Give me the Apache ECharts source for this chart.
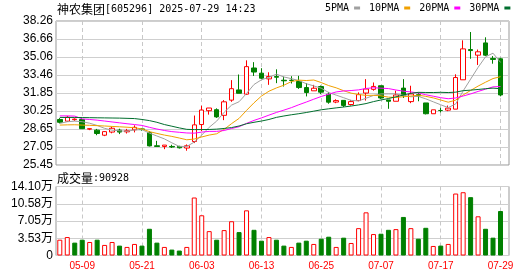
<!DOCTYPE html>
<html><head><meta charset="utf-8">
<script src="https://cdn.jsdelivr.net/npm/echarts@6/dist/echarts.min.js"></script>
<style>html,body{margin:0;padding:0;background:#fff}#c{width:530px;height:276px}</style>
</head><body><div id="c"></div>
<script>
const dates = ['05-06','05-07','05-08','05-09','05-12','05-13','05-14','05-15','05-16','05-19','05-20','05-21','05-22','05-23','05-26','05-27','05-28','05-29','05-30','06-03','06-04','06-05','06-06','06-09','06-10','06-11','06-12','06-13','06-16','06-17','06-18','06-19','06-20','06-23','06-24','06-25','06-26','06-27','06-30','07-01','07-02','07-03','07-04','07-07','07-08','07-09','07-10','07-11','07-14','07-15','07-16','07-17','07-18','07-21','07-22','07-23','07-24','07-25','07-28','07-29'];
const open  = [29.50,29.35,29.48,29.50,28.64,28.55,28.10,28.38,28.55,28.40,28.58,28.66,28.33,27.16,27.10,27.10,27.10,26.96,27.54,29.05,30.28,30.37,29.87,31.22,32.13,31.75,34.08,33.62,33.11,33.32,32.99,32.99,32.88,32.34,32.05,32.43,31.75,31.05,31.20,30.83,31.18,31.85,32.18,32.50,31.24,31.12,32.29,31.09,31.71,30.97,30.01,30.30,30.33,30.42,33.03,35.72,35.22,36.31,34.93,34.90];
const close = [29.25,29.70,29.53,28.68,28.68,28.25,28.42,28.72,28.38,28.50,28.80,28.60,27.15,27.10,27.22,27.05,26.98,27.16,29.02,30.34,30.52,29.73,31.07,32.24,31.83,34.20,33.72,33.17,33.32,33.26,32.94,32.97,32.34,31.90,32.28,31.93,31.04,31.18,30.75,31.09,31.71,32.21,32.44,31.41,31.12,31.68,31.62,31.77,31.59,30.01,30.36,30.30,30.51,33.23,35.78,35.63,35.52,35.22,34.84,31.68];
const low   = [29.15,29.28,29.38,28.66,28.55,28.10,28.02,28.27,28.20,28.25,28.35,28.50,27.10,27.10,26.86,26.96,26.92,26.72,27.40,28.46,29.93,29.64,29.44,31.07,31.83,31.69,33.37,33.11,32.58,32.73,32.43,32.70,32.22,31.55,32.05,31.75,30.90,30.95,30.60,30.74,31.12,31.18,32.06,31.33,30.45,31.12,31.41,30.95,31.12,29.95,30.01,30.13,30.24,30.42,33.03,34.90,34.35,35.14,34.46,31.56];
const high  = [29.62,29.82,29.60,29.62,28.70,28.66,28.45,28.84,28.68,28.66,28.98,28.72,28.46,27.60,27.22,27.25,27.16,27.28,29.85,30.72,30.52,30.49,31.22,33.00,33.50,34.76,34.60,34.06,33.70,33.96,33.32,33.35,33.38,32.73,32.58,32.52,31.95,31.30,31.22,31.24,31.91,33.09,32.79,32.50,31.24,32.06,33.09,32.50,31.91,30.97,30.36,30.54,30.74,33.52,36.54,37.28,35.72,36.81,35.14,34.99];
const volume = [32300,37700,26300,32300,27600,32300,21600,27600,20200,17500,23600,20200,54600,26300,17500,12100,10100,17500,118500,82200,49800,32300,51900,70000,47800,92300,52500,30300,37700,32300,20200,17500,26300,30300,23600,34300,38400,17500,36400,25600,55900,88200,43800,44500,52500,53900,78800,55900,34300,56600,19500,20200,23600,126600,129300,119200,80100,54600,36400,90928];
const volUp = [1,1,0,0,1,0,1,1,0,1, 1,0,0,0,1,0,0,1,1,1, 1,0,1,1,0,1,0,0,1,0, 0,1,0,0,1,0,0,1,0,1, 1,1,1,0,0,1,0,1,0,0, 1,0,1,1,1,0,1,0,0,0];
// moving-average values before a full window exists
const ma5Head  = [29.15,29.30,29.35,29.30];
const ma10Head = [29.00,29.02,29.03,29.00,28.98,28.95,28.92,28.88,28.85];
const ma20Head = [29.82,29.82,29.80,29.55,29.50,29.44,29.36,29.28,29.20,29.12,29.05,28.97,28.80,28.65,28.52,28.42,28.36,28.30,28.28];
const ma30Head = [29.68,29.68,29.68,29.67,29.66,29.65,29.64,29.63,29.62,29.60,29.58,29.50,29.40,29.25,29.05,28.90,28.75,28.62,28.60,28.60,28.61,28.64,28.70,28.78,28.92,29.12,29.25,29.36,29.50];
const priceLabels = ['25.45','27.05','28.65','30.25','31.85','33.46','35.06','36.66','38.26'];
const volLabels = ['0','3.53万','7.05万','10.58万','14.10万'];
const maNames = ['5PMA','10PMA','20PMA','30PMA'];
const maColors = ['#a0a0a0','#f0a000','#ff00ff','#006e2e'];

const pMin = 25.45, pMax = 38.26, pStep = 1.60125;
const vMax = 141000, vStep = 35250;

function ma(n, head) {
  return close.map((_, i) => {
    if (i < n - 1) return head[i];
    let s = 0;
    for (let k = i - n + 1; k <= i; k++) s += close[k];
    return +(s / n).toFixed(3);
  });
}
const maData = [ma(5, ma5Head), ma(10, ma10Head), ma(20, ma20Head), ma(30, ma30Head)];
const kData = dates.map((_, i) => [open[i], close[i], low[i], high[i]]);
const volData = volume.map((v, i) => volUp[i]
  ? { value: v, itemStyle: { color: '#ffffff', borderColor: '#ff0000', borderWidth: 1 } }
  : { value: v, itemStyle: { color: '#008000', borderColor: '#008000', borderWidth: 1 } });

const labelIdx = (i) => (i - 3) % 8 === 0;
const monoFont = '"DejaVu Sans Mono", monospace';
const cjkFont = '"Noto Sans CJK SC", sans-serif';
const richTitle = {
  a: { fontFamily: cjkFont, fontSize: 12, color: '#000', lineHeight: 14, fontWeight: 'normal' },
  b: { fontFamily: monoFont, fontSize: 10, color: '#000', lineHeight: 14, fontWeight: 'normal' }
};

const chart = echarts.init(document.getElementById('c'), null, { renderer: 'canvas' });
const L = 56, W = 453, DL = 59.8, DW = 440.7;
chart.setOption({
  animation: false,
  backgroundColor: '#ffffff',
  title: [
    { text: '{a|神农集团}{b|[605296] 2025-07-29 14:23}', left: 57, top: 2, padding: 0,
      textStyle: { fontWeight: 'normal', rich: richTitle } },
    { text: '{a|成交量}{b|:' + volume[volume.length - 1] + '}', left: 57, top: 171, padding: 0,
      textStyle: { fontWeight: 'normal', rich: richTitle } }
  ],
  legend: {
    data: maNames, left: 325, top: 3, padding: 0, align: 'right', icon: 'rect',
    itemWidth: 6, itemHeight: 3, itemGap: 9,
    textStyle: { fontFamily: monoFont, fontSize: 10, color: '#000' }
  },
  grid: [
    { left: L, top: 21, width: W, height: 144, show: true, borderColor: '#999', borderWidth: 1 },
    { left: DL, top: 21, width: DW, height: 144 },
    { left: L, top: 186.5, width: W, height: 69, show: true, borderColor: '#999', borderWidth: 1 },
    { left: DL, top: 186.5, width: DW, height: 69 }
  ],
  xAxis: [
    { gridIndex: 0, type: 'value', show: false, min: 0, max: 1 },
    { gridIndex: 1, type: 'category', data: dates, boundaryGap: false,
      axisLine: { show: false }, axisTick: { show: false }, axisLabel: { show: false },
      splitLine: { show: true, interval: labelIdx, lineStyle: { color: '#c8c8c8', type: [4, 3] } } },
    { gridIndex: 2, type: 'value', show: false, min: 0, max: 1 },
    { gridIndex: 3, type: 'category', data: dates, boundaryGap: false,
      axisLine: { show: false }, axisTick: { show: false },
      axisLabel: { show: true, interval: labelIdx, color: '#ff0000', fontSize: 10, margin: 6,
                   fontFamily: '"Liberation Sans", Arial, sans-serif' },
      splitLine: { show: true, interval: labelIdx, lineStyle: { color: '#c8c8c8', type: [4, 3] } } }
  ],
  yAxis: [
    { gridIndex: 0, type: 'value', min: pMin, max: pMax, interval: pStep,
      axisLine: { show: false }, axisTick: { show: false },
      axisLabel: { color: '#000', fontSize: 12, margin: 3, fontFamily: '"Liberation Sans", Arial, sans-serif',
                   formatter: (v) => priceLabels[Math.round((v - pMin) / pStep)] },
      splitLine: { show: true, lineStyle: { color: '#cfcfcf', width: 1 } } },
    { gridIndex: 1, type: 'value', min: pMin, max: pMax, show: false },
    { gridIndex: 2, type: 'value', min: 0, max: vMax, interval: vStep,
      axisLine: { show: false }, axisTick: { show: false },
      axisLabel: { color: '#000', fontSize: 12, margin: 3, fontFamily: '"Liberation Sans", Arial, "Noto Sans CJK SC", sans-serif',
                   formatter: (v) => volLabels[Math.round(v / vStep)] },
      splitLine: { show: true, lineStyle: { color: '#cfcfcf', width: 1 } } },
    { gridIndex: 3, type: 'value', min: 0, max: vMax, show: false }
  ],
  series: [
    { name: 'K', type: 'candlestick', xAxisIndex: 1, yAxisIndex: 1, data: kData, barWidth: 5, clip: false,
      itemStyle: { color: '#ffffff', color0: '#008000', borderColor: '#ff0000', borderColor0: '#008000', borderWidth: 1 } },
    ...maNames.map((n, k) => ({
      name: n, type: 'line', xAxisIndex: 1, yAxisIndex: 1, data: maData[k], symbol: 'none',
      itemStyle: { color: maColors[k] }, lineStyle: { color: maColors[k], width: 1 }, z: 3
    })),
    { name: 'VOL', type: 'bar', xAxisIndex: 3, yAxisIndex: 3, data: volData, barWidth: 5, clip: false }
  ]
});
</script></body></html>
